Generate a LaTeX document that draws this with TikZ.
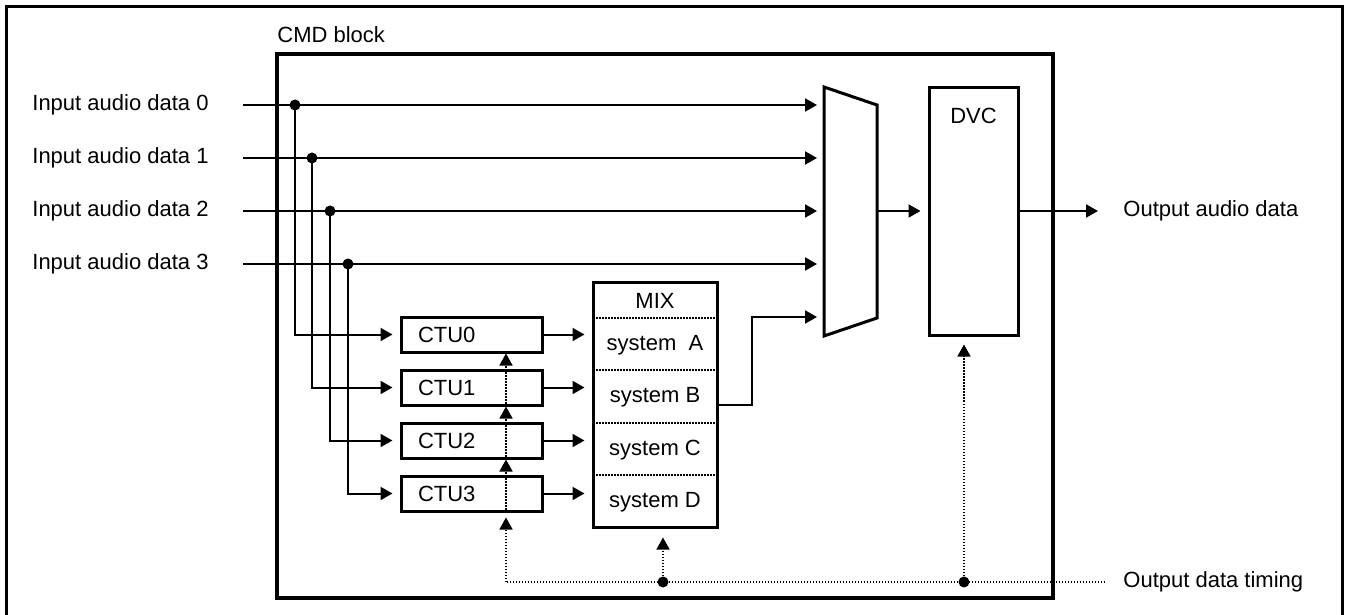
\documentclass[tikz,border=0pt]{standalone}
\usepackage{fontspec}
\setmainfont{Liberation Sans}
\usetikzlibrary{arrows.meta}

\tikzset{
  blk/.style={draw, line width=1.5pt, inner sep=0pt},
  ctubox/.style={blk, minimum width=70.5pt, minimum height=17.5pt, text width=53.5pt, align=left, inner xsep=8.5pt},
  tip/.style={-{Triangle[length=6pt,width=6.5pt]}},
  sig/.style={line width=1pt, tip, shorten >=3.5pt},
  tim/.style={line width=0.75pt, dash pattern=on 0.75pt off 0.75pt},
  lbl/.style={anchor=west, inner sep=0pt}
}

\begin{document}
\begin{tikzpicture}[x=0.5pt,y=-0.5pt,font=\fontsize{11}{13}\selectfont]
\useasboundingbox (0,0) rectangle (1346,615);

% outer frame
\draw [line width=1.5pt] (6,615) -- (6,7) -- (1342,7) -- (1342,615);

% CMD block
\draw [line width=2pt] (277,54) rectangle (1053,598);
\node [anchor=base west, inner sep=0pt] (cmdlbl) at (277,43) {CMD block};

% inputs
\node [lbl] (in0) at (32,105) {Input audio data 0};
\node [lbl] (in1) at (32,158) {Input audio data 1};
\node [lbl] (in2) at (32,211) {Input audio data 2};
\node [lbl] (in3) at (32,264) {Input audio data 3};

\coordinate (d0) at (295,105);
\coordinate (d1) at (312,158);
\coordinate (d2) at (330,211);
\coordinate (d3) at (348,264);

% selector
\draw [blk, line join=miter] (824,87) -- (877,105) -- (877,318) -- (824,336) -- cycle;
\coordinate (m0) at (824,105);
\coordinate (m1) at (824,158);
\coordinate (m2) at (824,211);
\coordinate (m3) at (824,264);
\coordinate (m4) at (824,317);
\coordinate (mo) at (877,211);

\draw [sig, shorten <=17pt] (in0.east) -- (m0);
\draw [sig, shorten <=17pt] (in1.east) -- (m1);
\draw [sig, shorten <=17pt] (in2.east) -- (m2);
\draw [sig, shorten <=17pt] (in3.east) -- (m3);

% CTUs
\node [ctubox] (ctu0) at (471.5,334.5) {CTU0};
\node [ctubox] (ctu1) at (471.5,387.5) {CTU1};
\node [ctubox] (ctu2) at (471.5,440.5) {CTU2};
\node [ctubox] (ctu3) at (471.5,493.5) {CTU3};

\draw [sig] (d0) |- (ctu0.west);
\draw [sig] (d1) |- (ctu1.west);
\draw [sig] (d2) |- (ctu2.west);
\draw [sig] (d3) |- (ctu3.west);
\fill (d0) circle (2.75pt);
\fill (d1) circle (2.75pt);
\fill (d2) circle (2.75pt);
\fill (d3) circle (2.75pt);

% MIX
\node [blk, minimum width=62pt, minimum height=122pt] (mix) at (655,405) {};
\draw [tim] (593,318) -- (717,318);
\draw [tim] (593,370) -- (717,370);
\draw [tim] (593,423) -- (717,423);
\draw [tim] (593,475) -- (717,475);
\node (mixt) at (655,301) {MIX};
\node (sysa) at (655,345) {system~~A};
\node (sysb) at (655,397) {system B};
\node (sysc) at (655,450) {system C};
\node (sysd) at (655,502) {system D};

\draw [sig] (ctu0.east) -- (ctu0.east -| mix.west);
\draw [sig] (ctu1.east) -- (ctu1.east -| mix.west);
\draw [sig] (ctu2.east) -- (ctu2.east -| mix.west);
\draw [sig] (ctu3.east) -- (ctu3.east -| mix.west);

\coordinate (mb) at (752,317);
\draw [sig] (mix.east) -| (mb) -- (m4);

% DVC
\node [blk, minimum width=44.5pt, minimum height=123.5pt] (dvc) at (973.5,211.5) {};
\node (dvct) at (973.5,116) {DVC};
\draw [sig] (mo) -- (mo -| dvc.west);

\node [lbl] (outd) at (1123,211) {Output audio data};
\draw [sig, shorten >=12.5pt] (dvc.east |- outd.west) -- (outd.west);

% timing
\node [lbl] (tlbl) at (1123,582) {Output data timing};
\coordinate (tx) at (506,582);
\coordinate (tm) at (663,582);
\coordinate (td) at (964,582);
\draw [tim, shorten <=9pt] (tlbl.west) -- (tx);
\draw [tim, tip, shorten >=2.5pt] (tx) -- (tx |- ctu3.south);
\draw [tim, tip] (tx |- ctu3.south) -- (tx |- ctu2.south);
\draw [tim, tip] (tx |- ctu2.south) -- (tx |- ctu1.south);
\draw [tim, tip] (tx |- ctu1.south) -- (tx |- ctu0.south);
\draw [tim, tip, shorten >=4.5pt] (tm) -- (tm |- mix.south);
\draw [tim, tip, shorten >=4pt] (td) -- (td |- dvc.south);
\fill (tm) circle (2.75pt);
\fill (td) circle (2.75pt);

\end{tikzpicture}
\end{document}
